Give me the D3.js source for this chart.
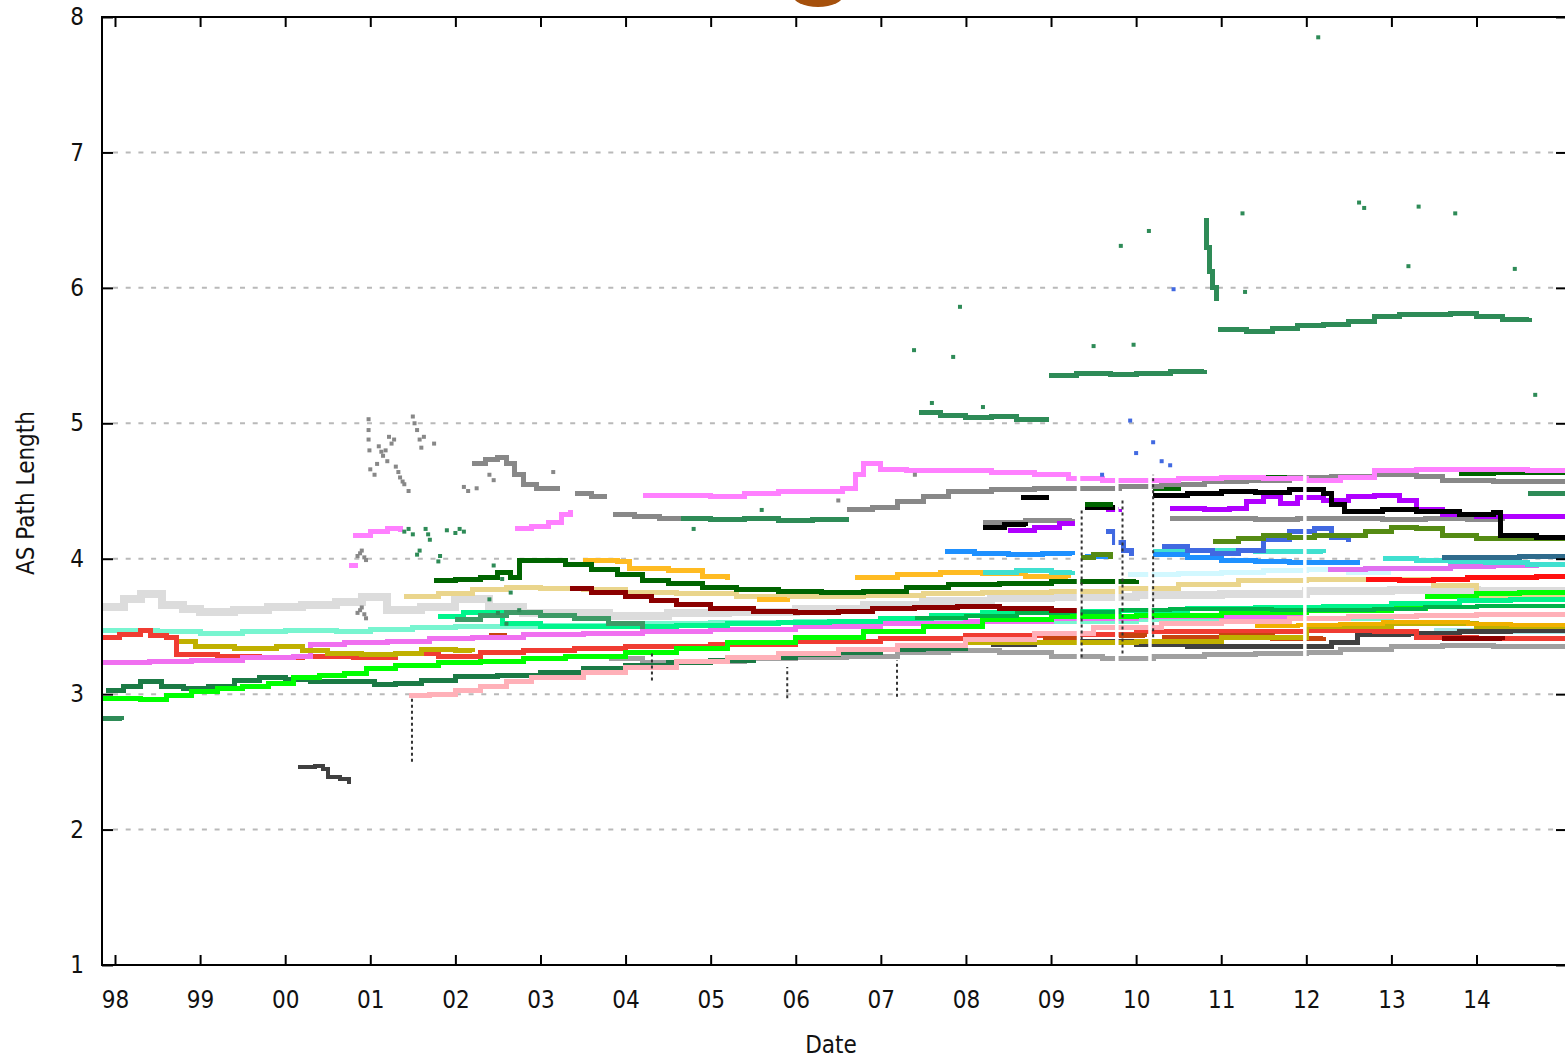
<!DOCTYPE html>
<html>
<head>
<meta charset="utf-8">
<script src="https://cdn.jsdelivr.net/npm/d3@7"></script>
<style>
  body { margin: 0; background: #fff; }
  text { font-family: "DejaVu Sans Condensed", "DejaVu Sans", sans-serif; font-stretch: condensed; }
</style>
</head>
<body>
<div id="chart"></div>
<script>
// ticks
const yearTicks = d3.range(1998, 2015);
const valueTicks = [1, 2, 3, 4, 5, 6, 7, 8];
const gridValues = [2, 3, 4, 5, 6, 7];

// series: [year, AS path length], null = break in the series
const lightGray = [[1997.85,3.64],[1998.1,3.7],[1998.3,3.74],[1998.55,3.66],[1998.8,3.63],[1999.0,3.61],[1999.4,3.62],[1999.8,3.64],[2000.2,3.66],[2000.6,3.68],[2000.9,3.72],[2001.2,3.62],[2001.6,3.64],[2002.0,3.7],[2002.4,3.64],[2002.8,3.6],[2003.3,3.6],[2003.8,3.58],[2004.5,3.6],[2005.2,3.61],[2006.0,3.63],[2006.8,3.66],[2007.5,3.69],[2008.3,3.71],[2009.0,3.72],[2010.0,3.73],[2011.0,3.74],[2012.0,3.76],[2013.0,3.77],[2014.0,3.76],[2015.1,3.76]];
const aquamarine = [[1997.85,3.47],[1998.5,3.46],[1999.0,3.45],[1999.5,3.46],[2000.0,3.47],[2000.6,3.46],[2001.0,3.48],[2001.5,3.49],[2002.0,3.5],[2003.0,3.51],[2004.0,3.52],[2005.0,3.53],[2006.0,3.54],[2007.0,3.55],[2008.0,3.54],[2009.0,3.54],[2010.0,3.55],[2011.0,3.56],[2012.0,3.56],[2013.0,3.54]];
const paleTurquoise = [[2013.5,3.47],[2014.0,3.46],[2014.6,3.46],[2015.1,3.47]];
const lightCyan = [[2009.9,3.88],[2010.5,3.89],[2011.0,3.9],[2011.5,3.91],[2012.0,3.92],[2012.5,3.9],[2013.0,3.9]];
const khaki = [[2001.4,3.72],[2001.8,3.74],[2002.2,3.77],[2002.6,3.79],[2003.0,3.78],[2003.5,3.77],[2004.0,3.75],[2004.6,3.74],[2005.3,3.72],[2006.0,3.72],[2006.8,3.73],[2007.5,3.74],[2008.2,3.75],[2009.0,3.76],[2009.8,3.78],[2010.5,3.81],[2011.2,3.84],[2012.0,3.85],[2012.8,3.85],[2013.5,3.8],[2014.0,3.72],[2015.1,3.71]];
const grayLow = [[2003.8,3.26],[2004.2,3.23],[2004.8,3.24],[2005.4,3.26],[2006.0,3.27],[2006.6,3.28],[2007.2,3.31],[2007.8,3.32],[2008.4,3.31],[2009.0,3.28],[2009.6,3.26],[2010.2,3.28],[2010.8,3.29],[2011.4,3.3],[2012.0,3.31],[2012.4,3.33],[2013.0,3.35],[2013.6,3.36],[2014.2,3.35],[2015.1,3.33]];
const darkGray = [[2008.3,3.37],[2008.8,3.38],[2009.3,3.39],[2010.0,3.37],[2010.6,3.35],[2011.2,3.35],[2011.8,3.35],[2012.3,3.38],[2012.6,3.44],[2013.2,3.45],[2013.8,3.46],[2014.4,3.47],[2015.1,3.47]];
const redLow = [[1997.85,3.42],[1998.05,3.44],[1998.3,3.47],[1998.42,3.43],[1998.6,3.42],[1998.72,3.29],[1999.2,3.28],[1999.7,3.27],[2000.2,3.28],[2000.8,3.27],[2001.3,3.3],[2001.8,3.28],[2002.3,3.31],[2002.8,3.32],[2003.4,3.34],[2004.0,3.35],[2005.0,3.37],[2006.0,3.39],[2007.0,3.41],[2008.0,3.43],[2009.0,3.44],[2010.0,3.46],[2011.0,3.46],[2012.0,3.47],[2012.8,3.46],[2013.3,3.42],[2014.0,3.41],[2015.1,3.43]];
const orangeRed = [[2002.4,3.43],[2002.58,3.41],null,[2008.9,3.41],[2009.3,3.4],null,[2009.8,3.43],[2010.1,3.42],null,[2010.3,3.42],[2011.0,3.43],[2011.6,3.41],[2012.2,3.42]];
const violetLow = [[1997.85,3.23],[1998.4,3.24],[1998.9,3.25],[1999.5,3.27],[2000.1,3.28],[2000.3,3.37],[2000.7,3.38],[2001.2,3.39],[2001.7,3.41],[2002.2,3.42],[2002.8,3.44],[2003.5,3.45],[2004.2,3.46],[2005.0,3.48],[2006.0,3.5],[2007.0,3.52],[2008.0,3.54],[2009.0,3.56],[2010.0,3.57],[2011.0,3.57],[2012.0,3.58]];
const oliveYellow = [[1998.75,3.39],[1998.95,3.35],[1999.4,3.34],[1999.9,3.35],[2000.2,3.32],[2000.5,3.3],[2000.9,3.29],[2001.3,3.3],[2001.6,3.33],[2002.0,3.32],[2002.2,3.31],null,[2007.5,3.36],[2008.0,3.38],[2009.0,3.38],[2010.0,3.39],[2011.0,3.42],[2012.0,3.5],[2013.0,3.52],[2014.0,3.5],[2015.1,3.5]];
const forestLow = [[1997.9,3.03],[1998.1,3.06],[1998.3,3.09],[1998.55,3.06],[1998.8,3.04],[1999.1,3.06],[1999.4,3.1],[1999.7,3.12],[2000.0,3.11],[2000.3,3.09],[2000.85,3.09],[2001.05,3.07],[2001.3,3.08],[2001.6,3.1],[2002.0,3.13],[2002.5,3.14],[2003.0,3.16],[2003.5,3.19],[2004.0,3.21],[2004.5,3.23],[2005.0,3.25],[2005.5,3.27],[2006.0,3.29],[2006.5,3.31],[2007.0,3.33],[2007.5,3.34],[2008.0,3.35]];
const lightPink = [[2001.45,2.99],[2001.7,3.0],[2002.0,3.03],[2002.3,3.06],[2002.6,3.09],[2002.9,3.12],[2003.5,3.16],[2004.0,3.2],[2004.6,3.24],[2005.2,3.27],[2005.8,3.3],[2006.5,3.33],[2007.2,3.36],[2008.0,3.4],[2008.8,3.45],[2009.5,3.49],[2010.3,3.52],[2011.0,3.54],[2011.8,3.56],[2012.5,3.57],[2013.3,3.58],[2014.0,3.59],[2015.1,3.6]];
const lime = [[1997.85,2.97],[1998.3,2.96],[1998.6,2.99],[1998.9,3.02],[1999.2,3.04],[1999.5,3.06],[1999.8,3.08],[2000.1,3.12],[2000.4,3.14],[2000.7,3.15],[2000.95,3.19],[2001.3,3.21],[2001.8,3.23],[2002.3,3.24],[2002.8,3.26],[2003.3,3.28],[2004.0,3.31],[2004.6,3.34],[2005.2,3.38],[2006.0,3.42],[2006.8,3.46],[2007.5,3.5],[2008.2,3.55],[2009.0,3.57],[2010.0,3.58],[2011.0,3.6],[2012.0,3.62],[2013.0,3.63],[2013.4,3.64]];
const limeTop = [[2013.4,3.72],[2014.0,3.74],[2014.5,3.75],[2015.1,3.75]];
const springGreen = [[2001.8,3.57],[2002.1,3.6],[2002.4,3.6],[2002.55,3.52],[2003.0,3.5],[2003.5,3.5],[2004.0,3.5],[2004.6,3.51],[2005.2,3.52],[2005.8,3.53],[2006.4,3.54],[2007.0,3.56],[2007.6,3.58],[2008.2,3.6],[2009.0,3.61],[2009.8,3.62],[2010.6,3.63],[2011.4,3.64],[2012.2,3.65],[2013.0,3.67],[2013.8,3.69],[2014.4,3.7],[2015.1,3.7]];
const greenMid = [[2007.4,3.56],[2008.0,3.58],[2008.6,3.6],[2009.2,3.61],[2009.8,3.62],[2010.4,3.63],[2011.0,3.63],[2011.6,3.62],[2012.2,3.62],[2012.8,3.63],[2013.4,3.64],[2014.0,3.65],[2015.1,3.66]];
const seaGreenMid = [[2002.0,3.55],[2002.3,3.58],[2002.6,3.6],[2003.0,3.58],[2003.4,3.56],[2003.8,3.52],[2004.2,3.48]];
const goldLow = [[2011.4,3.5],[2011.9,3.51],[2012.4,3.52],[2012.9,3.53],[2013.4,3.53],[2013.9,3.52],[2014.4,3.51],[2015.1,3.52]];
const gold = [[2003.5,3.99],[2003.9,3.98],[2004.05,3.93],[2004.5,3.91],[2004.9,3.87],[2005.2,3.84],null,[2005.55,3.7],[2005.9,3.71],null,[2006.7,3.86],[2007.2,3.88],[2007.7,3.9],[2008.2,3.89],[2008.7,3.87],[2009.2,3.86]];
const darkRed = [[2003.35,3.78],[2003.6,3.75],[2004.0,3.72],[2004.3,3.69],[2004.6,3.66],[2005.0,3.63],[2005.5,3.61],[2006.0,3.6],[2006.5,3.61],[2006.9,3.63],[2007.4,3.64],[2007.9,3.65],[2008.4,3.63],[2009.0,3.62],[2009.3,3.6],null,[2013.6,3.41],[2014.3,3.4]];
const darkGreen = [[2001.75,3.84],[2002.0,3.85],[2002.3,3.86],[2002.5,3.9],[2002.65,3.86],[2002.75,3.99],[2003.0,3.99],[2003.3,3.96],[2003.6,3.92],[2003.9,3.88],[2004.2,3.84],[2004.5,3.82],[2004.9,3.79],[2005.3,3.77],[2005.8,3.76],[2006.3,3.75],[2006.8,3.76],[2007.3,3.79],[2007.8,3.81],[2008.4,3.82],[2009.0,3.83],[2009.6,3.83],[2010.0,3.84]];
const redBright = [[2012.7,3.85],[2013.1,3.84],[2013.5,3.85],[2013.9,3.86],[2014.3,3.86],[2014.7,3.87],[2015.1,3.88]];
const violetMid = [[2012.25,3.92],[2012.7,3.93],[2013.2,3.93],[2013.7,3.94],[2014.2,3.95],[2014.7,3.96],[2015.1,3.96]];
const turquoise = [[2008.2,3.9],[2008.6,3.91],[2009.0,3.9],[2009.25,3.91],null,[2010.2,4.05],[2010.6,4.06],[2011.0,4.06],[2011.4,4.05],[2011.8,4.05],[2012.2,4.04],null,[2012.9,4.0],[2013.3,3.99],[2013.7,3.98],[2014.1,3.97],[2014.6,3.96],[2015.1,3.96]];
const steelBlue = [[2013.6,4.01],[2014.0,4.01],[2014.5,4.02],[2015.1,4.01]];
const dodgerBlue = [[2007.75,4.05],[2008.1,4.04],[2008.5,4.03],[2008.9,4.04],[2009.25,4.03],null,[2009.4,4.02],[2009.7,4.03],null,[2010.2,4.03],[2010.6,4.01],[2011.0,3.99],[2011.4,3.98],[2011.8,3.97],[2012.2,3.97],[2012.6,3.95]];
const royalBlue = [[2009.65,4.2],[2009.75,4.12],[2009.85,4.06],[2009.95,4.02],null,[2010.3,4.09],[2010.6,4.06],[2010.9,4.04],[2011.2,4.06],[2011.5,4.14],[2011.8,4.2],[2012.1,4.22],[2012.3,4.16],[2012.5,4.12]];
const oliveDrab = [[2009.35,4.01],[2009.5,4.03],[2009.7,4.0],null,[2010.9,4.13],[2011.2,4.15],[2011.5,4.17],[2011.8,4.16],[2012.1,4.17],[2012.4,4.17],[2012.7,4.2],[2013.0,4.23],[2013.3,4.22],[2013.6,4.17],[2014.0,4.15],[2014.5,4.15],[2015.1,4.14]];
const grayMid = [[2008.2,4.27],[2008.7,4.28],[2009.25,4.29],null,[2010.4,4.3],[2010.9,4.3],[2011.4,4.29],[2011.9,4.3],[2012.4,4.3],[2012.9,4.29],[2013.4,4.3],[2013.9,4.29],[2014.3,4.28]];
const purple = [[2008.5,4.21],[2008.8,4.23],[2009.1,4.26],[2009.25,4.28],null,[2009.65,4.36],[2009.8,4.37],null,[2010.4,4.37],[2010.8,4.36],[2011.1,4.37],[2011.3,4.42],[2011.5,4.46],[2011.7,4.41],[2011.9,4.45],[2012.2,4.43],[2012.5,4.46],[2012.8,4.47],[2013.1,4.43],[2013.3,4.36],[2013.6,4.33],[2014.0,4.31],[2014.5,4.31],[2015.1,4.32]];
const blackSeries = [[2008.2,4.23],[2008.45,4.25],[2008.7,4.24],null,[2008.65,4.45],[2008.95,4.43],null,[2009.4,4.38],[2009.75,4.39],null,[2010.2,4.47],[2010.6,4.48],[2011.0,4.5],[2011.4,4.49],[2011.8,4.51],[2012.2,4.48],[2012.3,4.4],[2012.45,4.35],[2012.9,4.36],[2013.3,4.35],[2013.8,4.33],[2014.2,4.34],[2014.28,4.17],[2014.7,4.16],[2015.1,4.17]];
const darkGreenHigh = [[2009.4,4.4],[2009.7,4.42],null,[2010.2,4.52],[2010.5,4.55],[2010.8,4.57],[2011.1,4.58],[2011.4,4.6],[2011.7,4.6],[2012.0,4.6],[2012.3,4.6],null,[2013.8,4.63],[2014.2,4.64],[2014.6,4.64],[2015.1,4.65]];
const grayHigh = [[2002.2,4.7],[2002.35,4.73],[2002.5,4.75],[2002.6,4.7],[2002.7,4.62],[2002.8,4.55],[2002.95,4.52],[2003.2,4.5],null,[2003.4,4.48],[2003.6,4.46],[2003.75,4.44],null,[2003.85,4.33],[2004.1,4.31],[2004.4,4.3],[2004.7,4.29],null,[2006.6,4.36],[2006.9,4.38],[2007.2,4.42],[2007.5,4.46],[2007.8,4.5],[2008.3,4.51],[2008.8,4.52],[2009.3,4.52],[2009.8,4.53],[2010.3,4.55],[2010.8,4.57],[2011.3,4.58],[2011.8,4.6],[2012.3,4.61],[2012.8,4.62],[2013.3,4.61],[2013.6,4.58],[2014.2,4.57],[2015.1,4.57]];
const violetHigh = [[2000.75,3.95],[2000.85,3.95],null,[2000.8,4.17],[2001.0,4.2],[2001.2,4.22],[2001.35,4.2],null,[2002.7,4.22],[2002.9,4.24],[2003.1,4.27],[2003.25,4.33],[2003.35,4.36],null,[2004.2,4.47],[2004.6,4.47],[2005.0,4.46],[2005.4,4.48],[2005.8,4.5],[2006.2,4.5],[2006.55,4.52],[2006.7,4.62],[2006.8,4.7],[2007.0,4.66],[2007.3,4.65],[2007.8,4.65],[2008.3,4.64],[2008.8,4.62],[2009.2,4.59],[2009.6,4.58],[2010.0,4.58],[2010.5,4.59],[2011.0,4.6],[2011.5,4.59],[2012.0,4.58],[2012.4,4.6],[2012.8,4.65],[2013.3,4.66],[2014.0,4.66],[2014.6,4.65],[2015.1,4.64]];
const seaGreen = [[1997.85,2.82],[1998.08,2.81],null,[2004.65,4.3],[2005.0,4.29],[2005.4,4.3],[2005.8,4.28],[2006.2,4.29],[2006.6,4.31],null,[2007.45,5.08],[2007.7,5.06],[2008.0,5.04],[2008.3,5.05],[2008.6,5.03],[2008.95,5.05],null,[2008.98,5.35],[2009.3,5.37],[2009.7,5.36],[2010.0,5.37],[2010.4,5.38],[2010.8,5.39],null,[2010.8,6.5],[2010.83,6.3],[2010.86,6.12],[2010.9,6.0],[2010.94,5.9],null,[2010.96,5.69],[2011.3,5.68],[2011.6,5.7],[2011.9,5.72],[2012.2,5.73],[2012.5,5.75],[2012.8,5.79],[2013.1,5.8],[2013.4,5.8],[2013.7,5.81],[2014.0,5.79],[2014.3,5.77],[2014.62,5.78],null,[2014.6,4.48],[2015.1,4.47]];
const darkGrayLow = [[2000.15,2.46],[2000.35,2.47],[2000.45,2.45],[2000.5,2.39],[2000.65,2.37],[2000.75,2.34]];

// isolated samples
const grayDots = [[2000.98,5.03],[2000.98,4.95],[2000.98,4.88],[2000.99,4.8],[2001.0,4.66],[2001.05,4.62],[2001.08,4.7],[2001.1,4.83],[2001.13,4.79],[2001.15,4.76],[2001.18,4.8],[2001.2,4.72],[2001.22,4.9],[2001.25,4.85],[2001.28,4.88],[2001.3,4.68],[2001.33,4.64],[2001.35,4.6],[2001.38,4.57],[2001.4,4.55],[2001.45,4.5],[2001.5,5.05],[2001.52,5.0],[2001.55,4.95],[2001.58,4.88],[2001.6,4.82],[2001.63,4.9],[2001.75,4.85],[2000.85,4.02],[2000.88,4.04],[2000.9,4.06],[2000.93,4.01],[2000.95,3.99],[2000.85,3.6],[2000.88,3.62],[2000.9,3.64],[2000.93,3.59],[2000.95,3.56],[2002.1,4.53],[2002.15,4.5],[2002.25,4.52],[2002.4,4.62],[2002.45,4.58],[2003.15,4.64],[2006.5,4.43],[2007.4,4.62]];
const seaGreenDots = [[2001.4,4.2],[2001.45,4.22],[2001.5,4.18],[2001.55,4.03],[2001.58,4.06],[2001.65,4.22],[2001.68,4.18],[2001.7,4.14],[2001.8,3.98],[2001.82,4.02],[2001.9,4.21],[2002.0,4.19],[2002.05,4.22],[2002.1,4.2],[2002.45,3.95],[2002.55,3.85],[2002.65,3.75],[2002.75,3.62],[2002.4,3.7],[2002.5,3.6],[2002.6,3.52],[2007.39,5.54],[2007.93,5.86],[2007.85,5.49],[2009.5,5.57],[2009.97,5.58],[2009.82,6.31],[2010.15,6.42],[2011.25,6.55],[2011.28,5.97],[2012.14,7.85],[2012.62,6.63],[2012.68,6.59],[2013.32,6.6],[2013.75,6.55],[2013.2,6.16],[2014.45,6.14],[2014.69,5.21],[2007.6,5.15],[2008.2,5.12],[2004.8,4.22],[2005.6,4.36]];
const blueDots = [[2010.44,5.99],[2009.93,5.02],[2010.2,4.86],[2009.6,4.62],[2010.3,4.72],[2010.4,4.69],[2010.0,4.78]];

// data gaps and vertical streaks at the gaps
const gapYears = [2009.32, 2009.77, 2010.16, 2011.98];
const streaks = [[2009.36, 3.27, 4.36], [2009.84, 3.3, 4.45], [2010.2, 3.42, 4.62], [2001.49, 2.5, 2.98], [2004.31, 3.1, 3.3], [2007.19, 2.98, 3.25], [2005.9, 2.97, 3.2]];

const seriesList = [
  { data: lightGray, color: "#dcdcdc", w: 8 },
  { data: aquamarine, color: "#78f5d0", w: 5 },
  { data: paleTurquoise, color: "#a8e8e8", w: 5 },
  { data: lightCyan, color: "#d2f8ff", w: 5 },
  { data: khaki, color: "#ead58c", w: 5 },
  { data: grayLow, color: "#a0a0a0", w: 5 },
  { data: darkGray, color: "#404040", w: 5 },
  { data: redLow, color: "#f03c32", w: 5 },
  { data: orangeRed, color: "#c8440f", w: 5 },
  { data: violetLow, color: "#f070f0", w: 5 },
  { data: oliveYellow, color: "#c0b000", w: 5 },
  { data: forestLow, color: "#1b7a45", w: 5 },
  { data: lightPink, color: "#ffb0b8", w: 5 },
  { data: lime, color: "#00ff00", w: 5 },
  { data: limeTop, color: "#00ff00", w: 5 },
  { data: springGreen, color: "#00f58c", w: 5 },
  { data: greenMid, color: "#00b34a", w: 4 },
  { data: seaGreenMid, color: "#3d9a66", w: 5 },
  { data: goldLow, color: "#f0b000", w: 4 },
  { data: gold, color: "#ffbb22", w: 5 },
  { data: darkRed, color: "#8b0000", w: 5 },
  { data: darkGreen, color: "#006400", w: 5 },
  { data: redBright, color: "#ff1010", w: 5 },
  { data: violetMid, color: "#e070f0", w: 5 },
  { data: turquoise, color: "#40e0d0", w: 5 },
  { data: steelBlue, color: "#2f6b8c", w: 5 },
  { data: dodgerBlue, color: "#1e90ff", w: 5 },
  { data: royalBlue, color: "#4169e1", w: 5 },
  { data: oliveDrab, color: "#558b14", w: 5 },
  { data: grayMid, color: "#8c8c8c", w: 5 },
  { data: purple, color: "#b000ff", w: 5 },
  { data: blackSeries, color: "#000000", w: 5 },
  { data: darkGreenHigh, color: "#006400", w: 5 },
  { data: grayHigh, color: "#888888", w: 5 },
  { data: violetHigh, color: "#ff80ff", w: 5 },
  { data: seaGreen, color: "#2e8b57", w: 5 },
  { data: darkGrayLow, color: "#404040", w: 4 }
];
const dotSets = [
  { data: grayDots, color: "#888888" },
  { data: seaGreenDots, color: "#2e8b57" },
  { data: blueDots, color: "#4169e1" }
];

const width = 1565, height = 1061;
const plotLeft = 102, plotRight = 1566, plotTop = 17, plotBottom = 965;

const svg = d3.select("#chart").append("svg")
  .attr("width", width)
  .attr("height", height);

const x = d3.scaleLinear().domain([1998, 2014]).range([115, 1476.5]);
const y = d3.scaleLinear().domain([1, 8]).range([plotBottom, plotTop]);

// brown blob cut by the top edge
svg.append("ellipse")
  .attr("cx", 818).attr("cy", -6)
  .attr("rx", 26).attr("ry", 13)
  .attr("fill", "#a5500c");

// grid
svg.append("g").selectAll("line")
  .data(gridValues)
  .enter().append("line")
  .attr("x1", plotLeft + 11).attr("x2", plotRight - 10)
  .attr("y1", d => y(d)).attr("y2", d => y(d))
  .attr("stroke", "#b9b9b9")
  .attr("stroke-width", 2)
  .attr("stroke-dasharray", "5,7.7");

svg.append("clipPath").attr("id", "plot")
  .append("rect")
  .attr("x", plotLeft).attr("y", plotTop)
  .attr("width", plotRight - plotLeft).attr("height", plotBottom - plotTop);

let plot = svg.append("g").attr("clip-path", "url(#plot)");

let line = d3.line()
  .defined(d => d !== null)
  .x(d => x(d[0]))
  .y(d => y(d[1]))
  .curve(d3.curveStepAfter);

seriesList.forEach(s => {
  plot.append("path")
    .attr("d", line(s.data))
    .attr("fill", "none")
    .attr("stroke", s.color)
    .attr("stroke-width", s.w)
    .attr("shape-rendering", "crispEdges");
});

dotSets.forEach(s => {
  plot.append("g").selectAll("rect")
    .data(s.data)
    .enter().append("rect")
    .attr("x", d => x(d[0]) - 2)
    .attr("y", d => y(d[1]) - 2)
    .attr("width", 4).attr("height", 4)
    .attr("fill", s.color);
});

// gaps in the record
plot.append("g").selectAll("rect")
  .data(gapYears)
  .enter().append("rect")
  .attr("x", d => x(d) - 1.5)
  .attr("y", y(4.74))
  .attr("width", 3.5)
  .attr("height", y(3.2) - y(4.74))
  .attr("fill", "#fff");

plot.append("g").selectAll("line")
  .data(streaks)
  .enter().append("line")
  .attr("x1", d => x(d[0])).attr("x2", d => x(d[0]))
  .attr("y1", d => y(d[1])).attr("y2", d => y(d[2]))
  .attr("stroke", "#333")
  .attr("stroke-width", 2)
  .attr("stroke-dasharray", "3,3");

// axes (gnuplot style, ticks inward)
const fmtYear = d => String(d % 100).padStart(2, "0");
function styleAxis(g) {
  g.select(".domain").remove();
  g.selectAll(".tick line").attr("stroke", "#000").attr("stroke-width", 2);
  g.selectAll("text").attr("fill", "#111")
    .style("font-family", '"DejaVu Sans Condensed", "DejaVu Sans", sans-serif')
    .style("font-size", "24px");
}

svg.append("g")
  .attr("transform", `translate(0,${plotBottom})`)
  .call(d3.axisBottom(x).tickValues(yearTicks).tickFormat(fmtYear).tickSize(-10).tickSizeOuter(0).tickPadding(26))
  .call(styleAxis);
svg.append("g")
  .attr("transform", `translate(0,${plotTop})`)
  .call(d3.axisTop(x).tickValues(yearTicks).tickFormat("").tickSize(-10).tickSizeOuter(0))
  .call(styleAxis);
svg.append("g")
  .attr("transform", `translate(${plotLeft},0)`)
  .call(d3.axisLeft(y).tickValues(valueTicks).tickFormat(d3.format("d")).tickSize(-11).tickSizeOuter(0).tickPadding(18))
  .call(styleAxis);
svg.append("g")
  .attr("transform", `translate(${plotRight},0)`)
  .call(d3.axisRight(y).tickValues(valueTicks).tickFormat("").tickSize(-10).tickSizeOuter(0))
  .call(styleAxis);

svg.append("rect")
  .attr("x", plotLeft).attr("y", plotTop)
  .attr("width", plotRight - plotLeft).attr("height", plotBottom - plotTop)
  .attr("fill", "none")
  .attr("stroke", "#000")
  .attr("stroke-width", 2);

svg.append("text")
  .attr("x", 831).attr("y", 1053)
  .attr("text-anchor", "middle")
  .attr("font-size", "24px")
  .attr("fill", "#111")
  .text("Date");

svg.append("text")
  .attr("transform", "translate(34,493) rotate(-90)")
  .attr("text-anchor", "middle")
  .attr("font-size", "24px")
  .attr("fill", "#111")
  .text("AS Path Length");
</script>
</body>
</html>
